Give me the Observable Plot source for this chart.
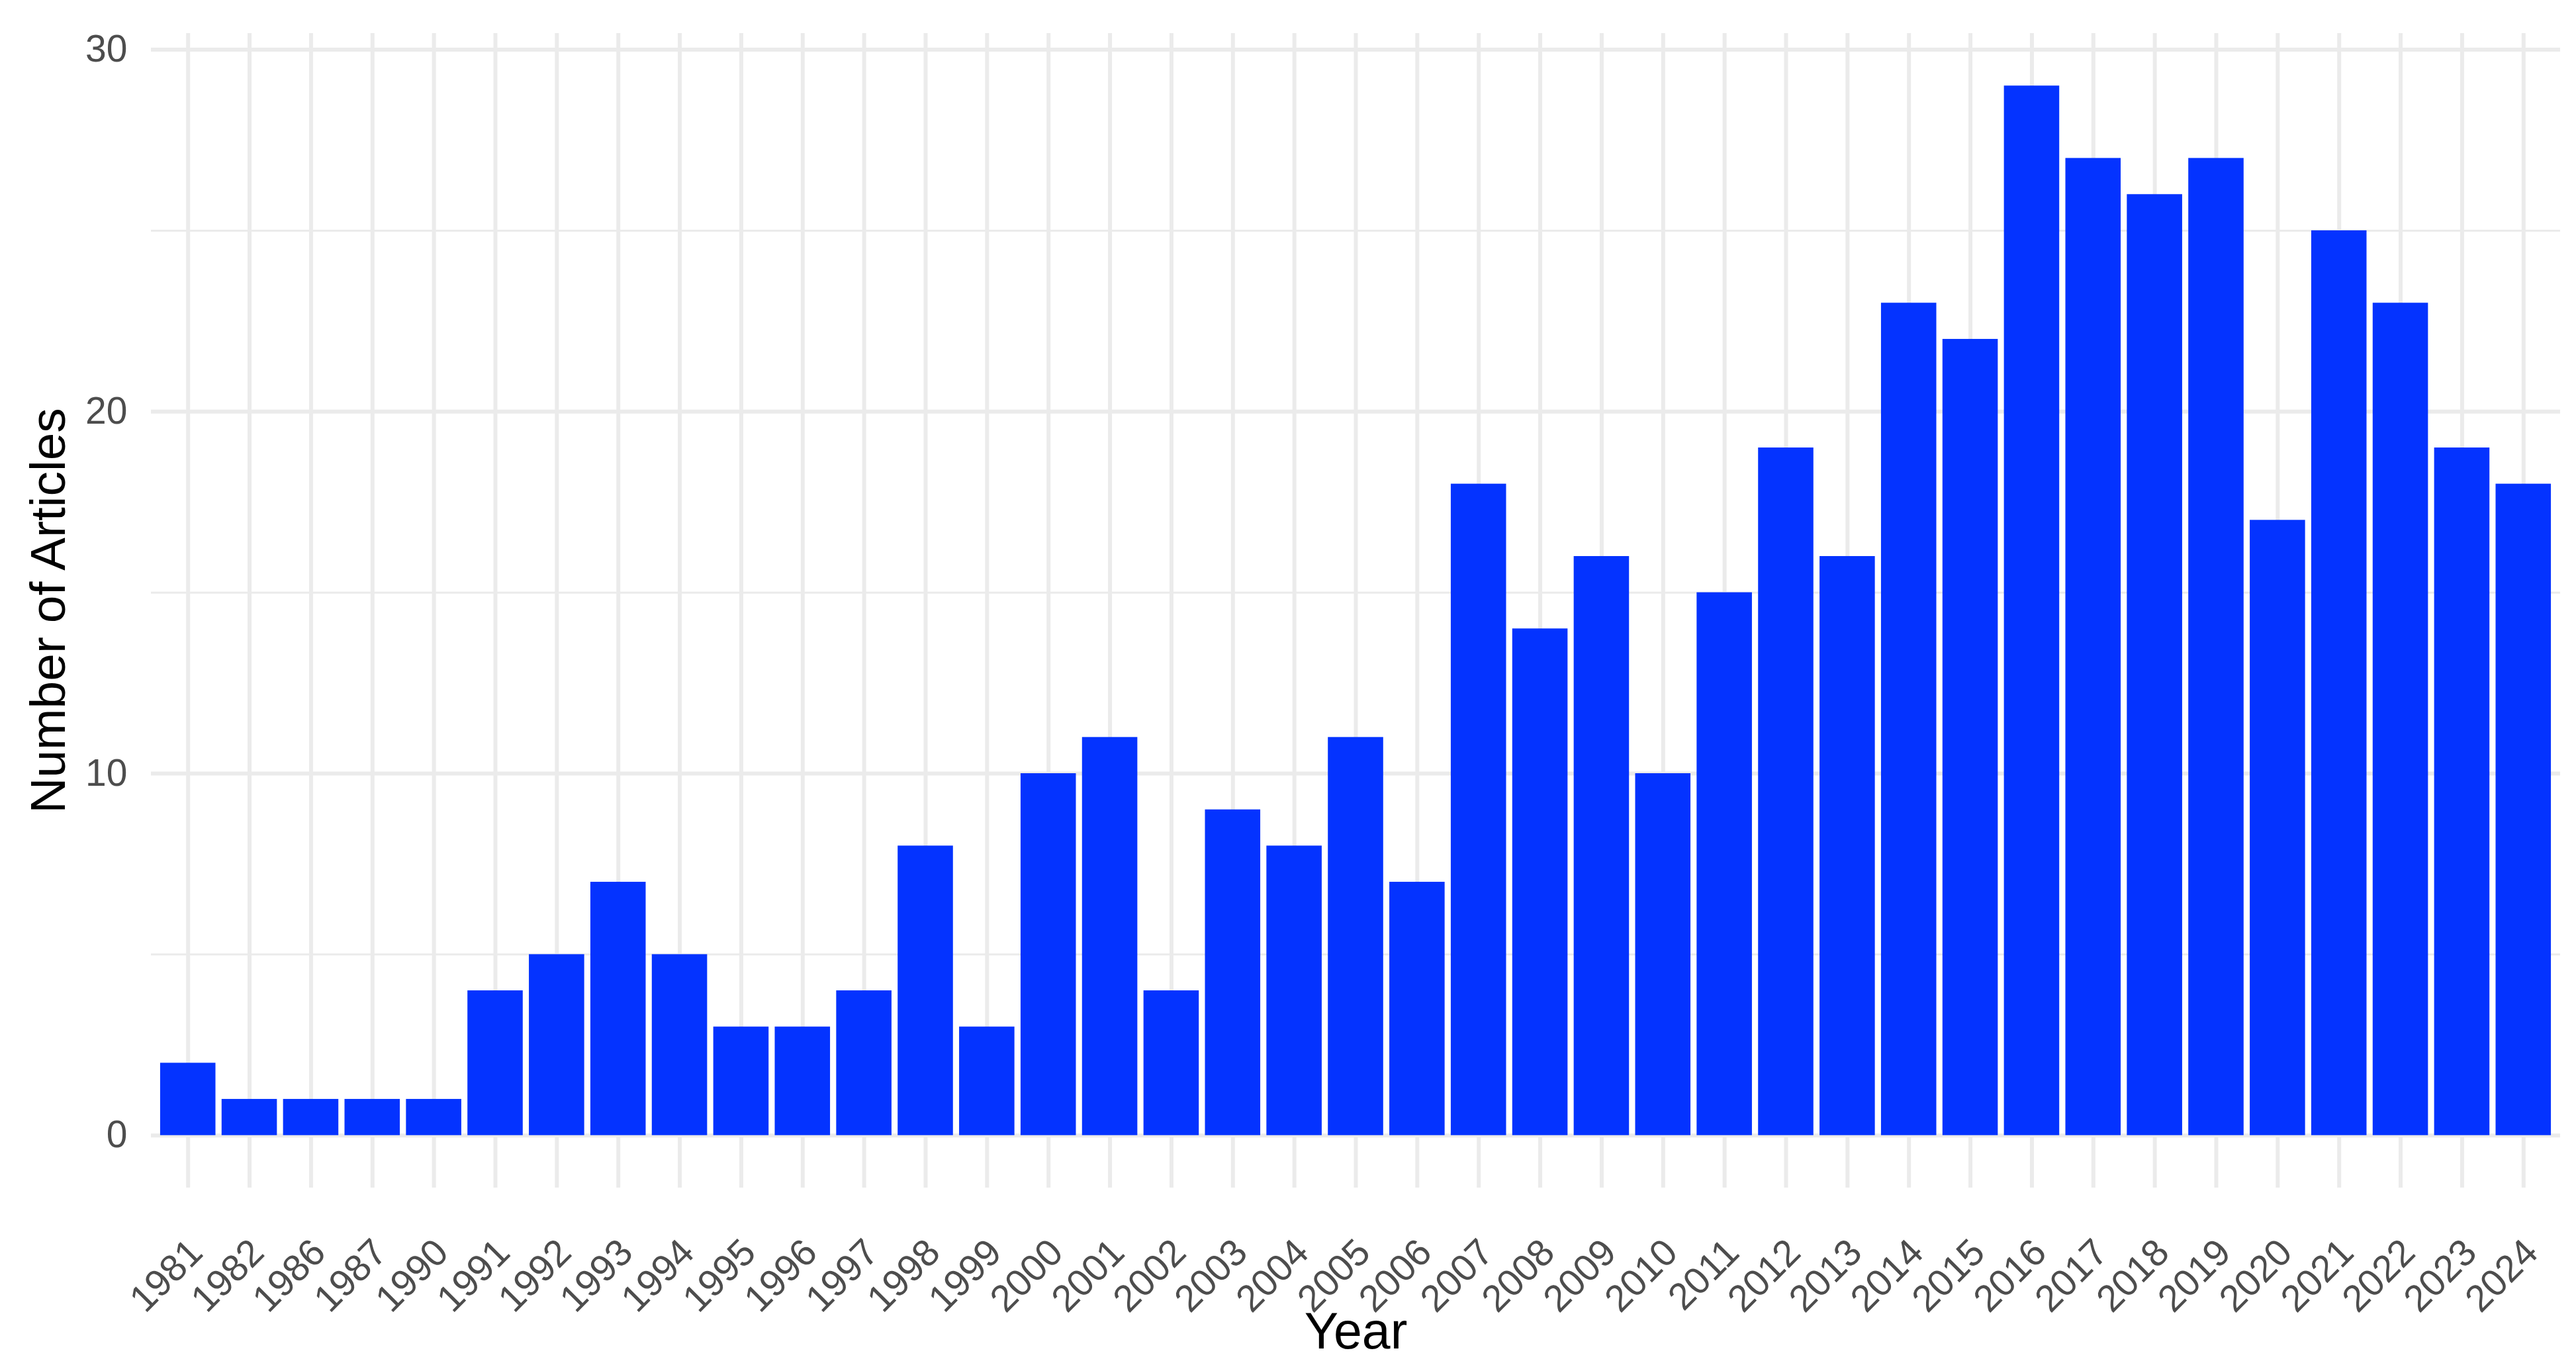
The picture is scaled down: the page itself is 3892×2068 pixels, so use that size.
<!DOCTYPE html>
<html><head><meta charset="utf-8">
<script src="https://cdn.jsdelivr.net/npm/d3@7"></script>
<script src="https://cdn.jsdelivr.net/npm/@observablehq/plot@0.6"></script>
<style>html,body{margin:0;padding:0;background:#fff;} svg{display:block}</style>
</head><body><div id="chart"></div>
<script>
const years = ["1981","1982","1986","1987","1990","1991","1992","1993","1994","1995","1996","1997","1998","1999","2000","2001","2002","2003","2004","2005","2006","2007","2008","2009","2010","2011","2012","2013","2014","2015","2016","2017","2018","2019","2020","2021","2022","2023","2024"];
const counts = [2,1,1,1,1,4,5,7,5,3,3,4,8,3,10,11,4,9,8,11,7,18,14,16,10,15,19,16,23,22,29,27,26,27,17,25,23,19,18];
const yMajorTicks = [0,10,20,30];
const yMinorTicks = [5,15,25];
const xTitle = "Year";
const yTitle = "Number of Articles";

const data = years.map((y, i) => ({year: y, count: counts[i]}));

const chart = Plot.plot({
  width: 3892, height: 2068,
  marginLeft: 228, marginRight: 24, marginTop: 50, marginBottom: 274,
  style: {fontFamily: "'Liberation Sans', Arial, sans-serif", background: "#fff"},
  x: {domain: years, paddingInner: 0.1, paddingOuter: 0.15, label: null},
  y: {domain: [-1.45, 30.45], label: null},
  marks: [
    Plot.ruleY(yMinorTicks, {stroke: "#ebebeb", strokeWidth: 3}),
    Plot.ruleY(yMajorTicks, {stroke: "#ebebeb", strokeWidth: 6}),
    Plot.gridX({stroke: "#ebebeb", strokeWidth: 6, strokeOpacity: 1}),
    Plot.barY(data, {x: "year", y: "count", fill: "#0433ff"}),
    Plot.axisY({ticks: yMajorTicks, tickSize: 0, tickPadding: 36, fontSize: 57, color: "#4d4d4d", label: null}),
    Plot.axisX({tickSize: 0, tickRotate: -45, tickPadding: 88, dx: 12, fontSize: 57, color: "#4d4d4d", label: null}),
    Plot.text([xTitle], {frameAnchor: "bottom", textAnchor: "middle", lineAnchor: "middle", dy: 218, fontSize: 77, fill: "#000"}),
    Plot.text([yTitle], {frameAnchor: "left", textAnchor: "middle", lineAnchor: "middle", rotate: -90, dx: -155, fontSize: 75, fill: "#000"})
  ]
});
document.getElementById("chart").appendChild(chart);
</script>
</body></html>
